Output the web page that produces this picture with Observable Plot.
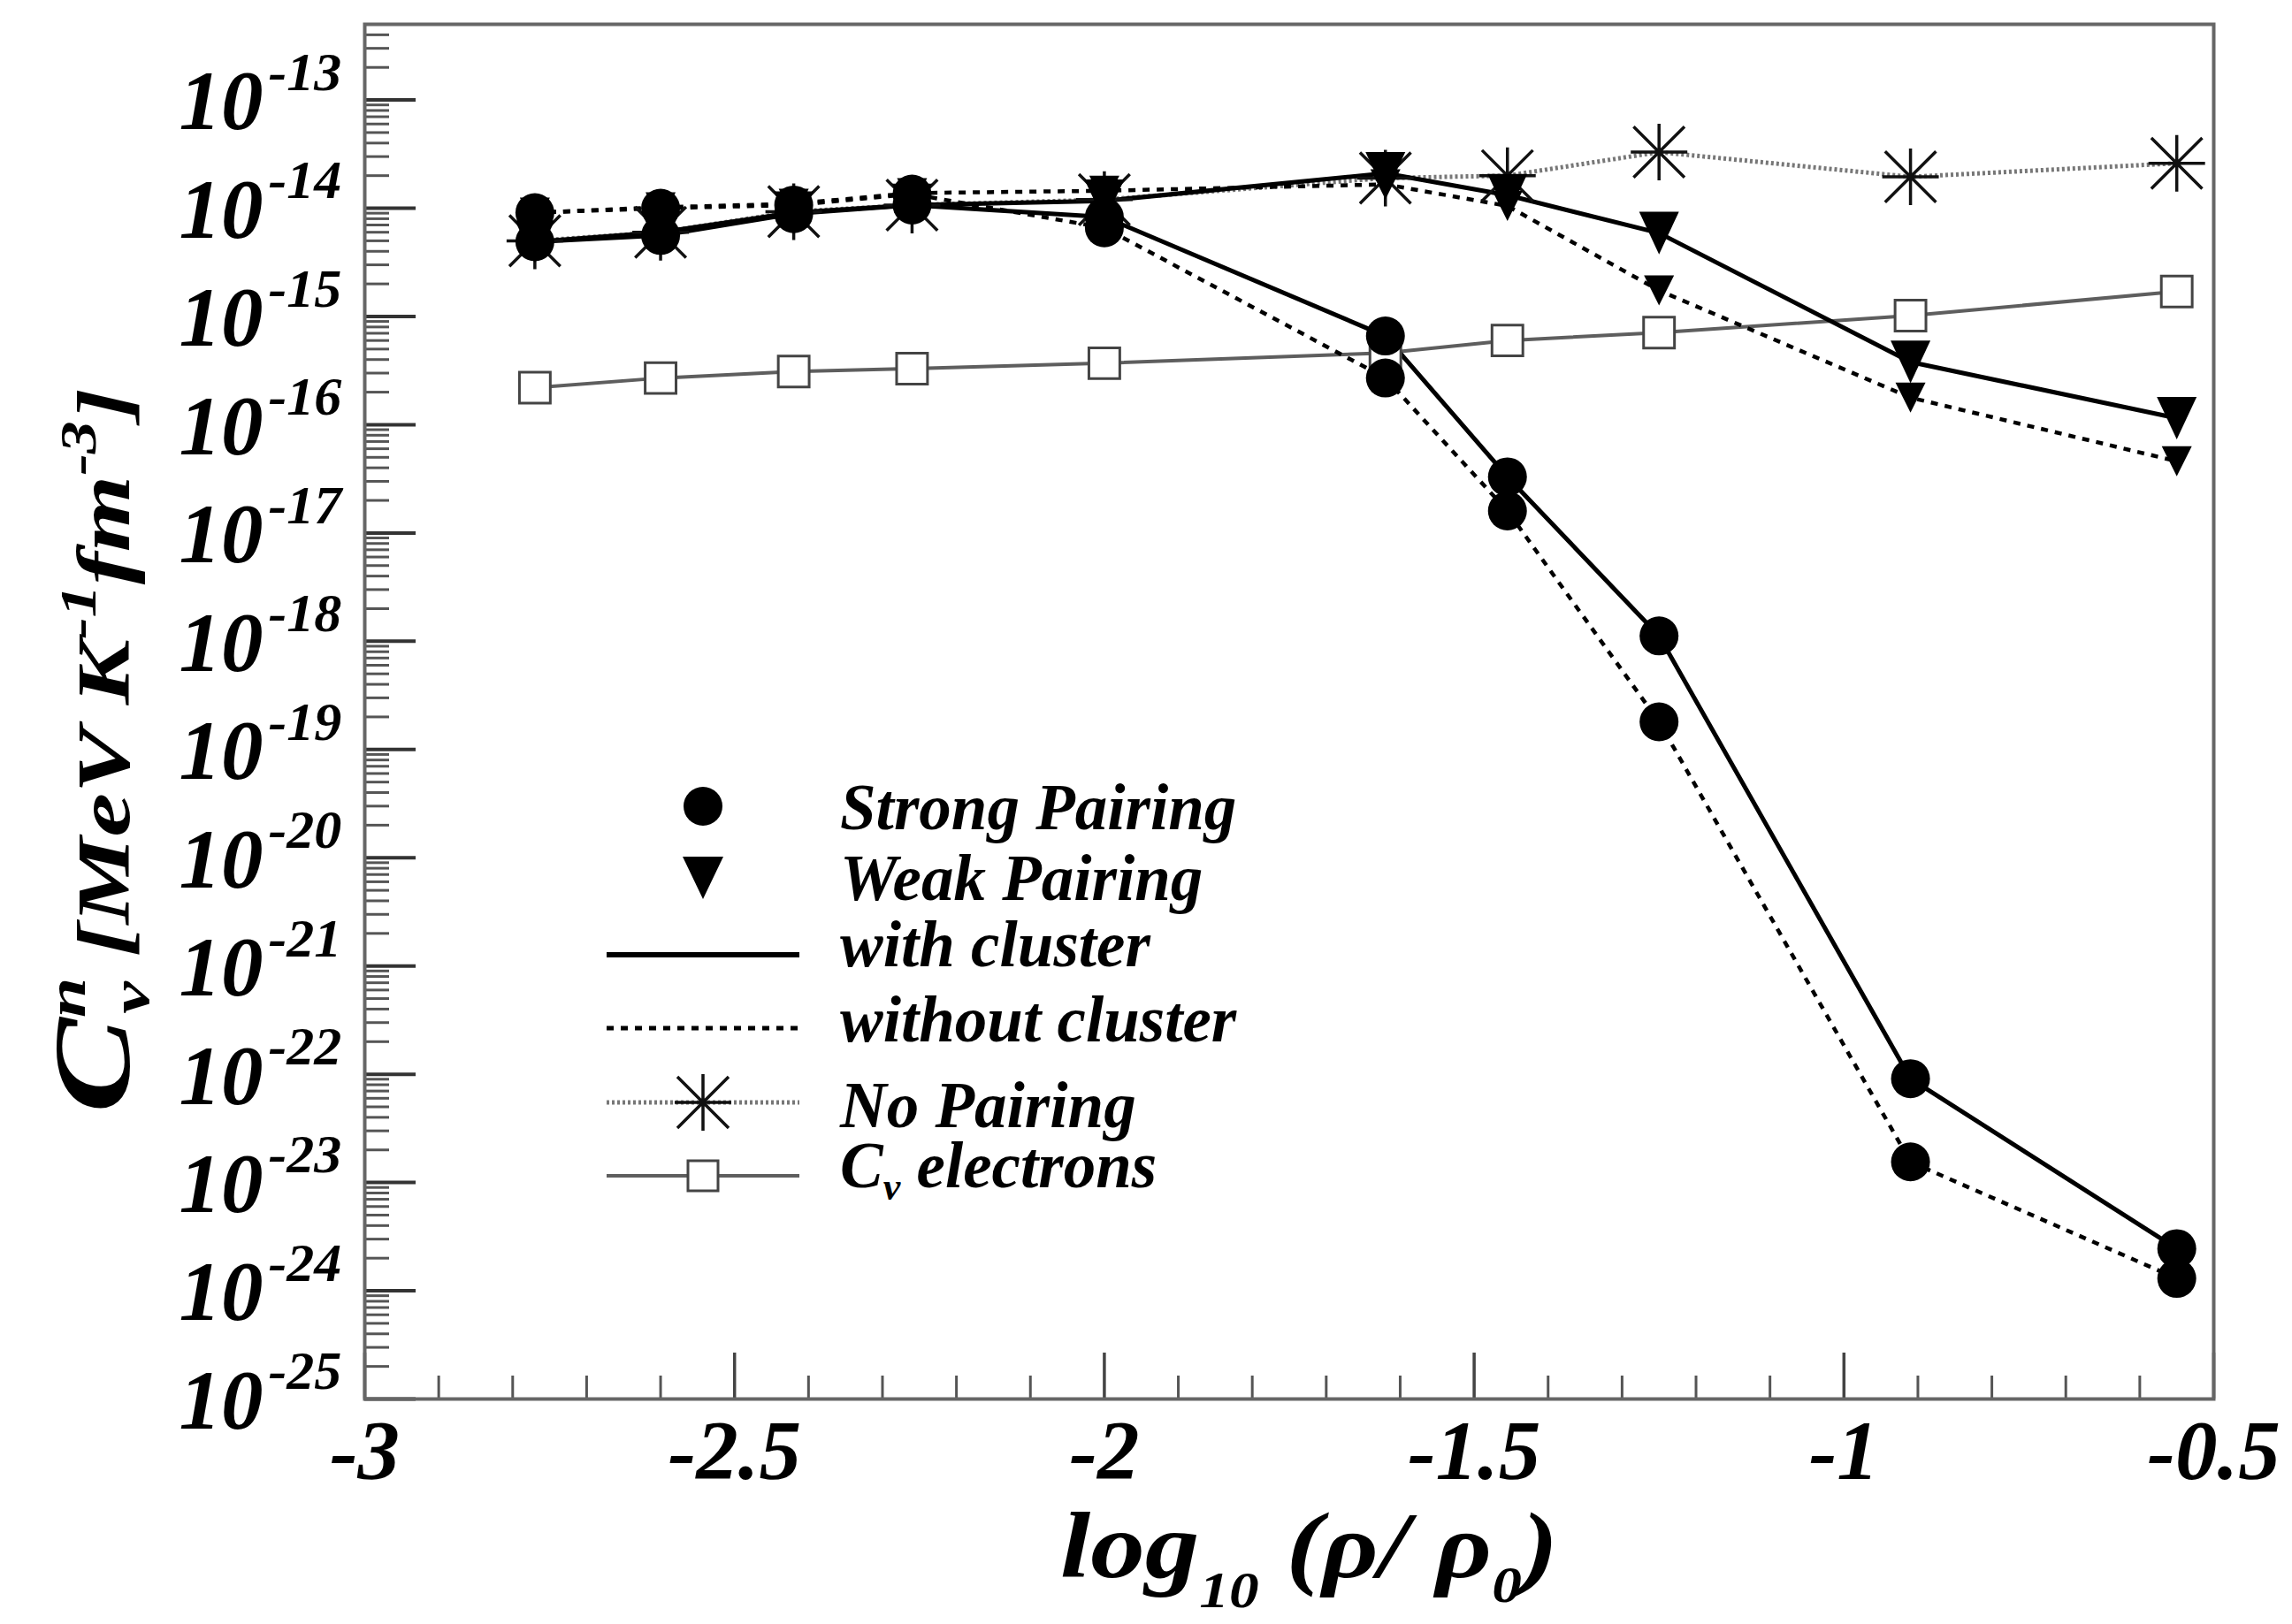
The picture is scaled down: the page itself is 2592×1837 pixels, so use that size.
<!DOCTYPE html>
<html><head><meta charset="utf-8">
<script src="https://cdn.jsdelivr.net/npm/d3@7"></script>
<script src="https://cdn.jsdelivr.net/npm/@observablehq/plot@0.6"></script>
<style>
html,body{margin:0;padding:0;background:#fff;}
#chart{width:2592px;height:1837px;}
</style></head><body><div id="chart"></div>
<script>
// ---- data ----
const logDensity = [-2.77, -2.60, -2.42, -2.26, -2.00, -1.62, -1.455, -1.25, -0.91, -0.55];
const strongWithCluster    = [4.9e-15, 5.6e-15, 8.9e-15, 1.07e-14, 8.3e-15, 6.6e-16, 3.3e-17, 1.12e-18, 9.1e-23, 2.45e-24];
const strongWithoutCluster = [9.1e-15, 1.0e-14, 1.07e-14, 1.35e-14, 6.6e-15, 2.7e-16, 1.6e-17, 1.8e-19, 1.55e-23, 1.3e-24];
const weakWithCluster      = [4.9e-15, 6.0e-15, 9.1e-15, 1.07e-14, 1.17e-14, 2.1e-14, 1.32e-14, 5.9e-15, 3.8e-16, 1.15e-16];
const weakWithoutCluster   = [9.1e-15, 1.02e-14, 1.1e-14, 1.38e-14, 1.45e-14, 1.66e-14, 1.05e-14, 1.74e-15, 1.78e-16, 4.6e-17];
const noPairing            = [5.0e-15, 6.0e-15, 9.3e-15, 1.07e-14, 1.2e-14, 1.9e-14, 2.0e-14, 3.3e-14, 1.95e-14, 2.6e-14];
const electronsCv          = [2.2e-16, 2.7e-16, 3.1e-16, 3.3e-16, 3.7e-16, 4.6e-16, 6.0e-16, 7.1e-16, 1.02e-15, 1.7e-15];

// ---- ticks ----
const xMajorTicks = [-3, -2.5, -2, -1.5, -1, -0.5];
const xTickLabels = ["-3", "-2.5", "-2", "-1.5", "-1", "-0.5"];
const xMinorTicks = [-2.9,-2.8,-2.7,-2.6,-2.4,-2.3,-2.2,-2.1,-1.9,-1.8,-1.7,-1.6,-1.4,-1.3,-1.2,-1.1,-0.9,-0.8,-0.7,-0.6];
const yMajorTicks = [1e-13,1e-14,1e-15,1e-16,1e-17,1e-18,1e-19,1e-20,1e-21,1e-22,1e-23,1e-24,1e-25];
const yTickExponents = ["-13","-14","-15","-16","-17","-18","-19","-20","-21","-22","-23","-24","-25"];
const yMinorMultipliers = [2,3,4,5,6,7,8,9];
const yMinorTicks = [];
for (const t of yMajorTicks) for (const m of yMinorMultipliers) { const v = t*m; if (v <= 5.0001e-13) yMinorTicks.push(v); }

const legendLabels = ["Strong Pairing", "Weak Pairing", "with cluster", "without cluster", "No Pairing", "electrons"];

// ---- layout ----
const W = 2592, H = 1837;
const mL = 412, mR = 89, mT = 27, mB = 255;
const innerW = W - mL - mR, innerH = H - mT - mB;
const FONT = "'Liberation Serif', 'Times New Roman', serif";

const series = vals => logDensity.map((x, i) => ({x, y: vals[i]}));

const downTriangle = (ratio) => ({
  draw(ctx, size) {
    const r = Math.sqrt(size / Math.PI);
    const h = r * ratio;
    ctx.moveTo(-r, -h); ctx.lineTo(r, -h); ctx.lineTo(0, h); ctx.closePath();
  }
});
const asterisk8 = {
  draw(ctx, size) {
    const r = Math.sqrt(size / Math.PI), d = r * 0.9;
    ctx.moveTo(0, -r); ctx.lineTo(0, r);
    ctx.moveTo(-r, 0); ctx.lineTo(r, 0);
    ctx.moveTo(-d, -d); ctx.lineTo(d, d);
    ctx.moveTo(-d, d); ctx.lineTo(d, -d);
  }
};

const svg = Plot.plot({
  width: W, height: H,
  marginLeft: mL, marginRight: mR, marginTop: mT, marginBottom: mB,
  style: {background: "white", fontFamily: FONT},
  x: {domain: [-3, -0.5], axis: null},
  y: {type: "log", domain: [1e-25, 5e-13], axis: null},
  marks: [
    // ticks (inside the frame)
    Plot.ruleY(yMinorTicks, {y: d => d, insetRight: innerW - 28, stroke: "#555", strokeWidth: 3}),
    Plot.ruleY(yMajorTicks, {y: d => d, insetRight: innerW - 58, stroke: "#333", strokeWidth: 4}),
    Plot.ruleX(xMinorTicks, {x: d => d, insetTop: innerH - 26, stroke: "#555", strokeWidth: 3}),
    Plot.ruleX(xMajorTicks, {x: d => d, insetTop: innerH - 52, stroke: "#444", strokeWidth: 3.5}),
    // lines
    Plot.line(series(electronsCv), {x: "x", y: "y", stroke: "#5e5e5e", strokeWidth: 4}),
    Plot.line(series(noPairing), {x: "x", y: "y", stroke: "#777", strokeWidth: 5, strokeDasharray: "3,3", strokeLinecap: "butt"}),
    Plot.line(series(strongWithoutCluster), {x: "x", y: "y", stroke: "#000", strokeWidth: 4.5, strokeDasharray: "8,8", strokeLinecap: "butt"}),
    Plot.line(series(weakWithoutCluster), {x: "x", y: "y", stroke: "#000", strokeWidth: 4.5, strokeDasharray: "8,8", strokeLinecap: "butt"}),
    Plot.line(series(strongWithCluster), {x: "x", y: "y", stroke: "#000", strokeWidth: 5}),
    Plot.line(series(weakWithCluster), {x: "x", y: "y", stroke: "#000", strokeWidth: 5}),
    // markers
    Plot.dot(series(electronsCv), {x: "x", y: "y", symbol: "square", r: 19.7, fill: "white", stroke: "#444", strokeWidth: 3}),
    Plot.dot(series(noPairing), {x: "x", y: "y", symbol: asterisk8, r: 32, fill: "none", stroke: "#111", strokeWidth: 3.5}),
    Plot.dot(series(strongWithoutCluster), {x: "x", y: "y", symbol: "circle", r: 22, fill: "#000", stroke: "none"}),
    Plot.dot(series(strongWithCluster), {x: "x", y: "y", symbol: "circle", r: 22, fill: "#000", stroke: "none"}),
    Plot.dot(series(weakWithoutCluster), {x: "x", y: "y", symbol: downTriangle(1.0), r: 17, fill: "#000", stroke: "none"}),
    Plot.dot(series(weakWithCluster), {x: "x", y: "y", symbol: downTriangle(1.07), r: 22.5, fill: "#000", stroke: "none"}),
    // frame
    Plot.frame({stroke: "#666", strokeWidth: 4}),
    // tick labels
    Plot.text(xMajorTicks, {x: d => d, frameAnchor: "bottom", dy: 60, text: (d, i) => xTickLabels[i],
      fontSize: 95, fontWeight: "bold", fontStyle: "italic", textAnchor: "middle", lineAnchor: "middle", fill: "#000"}),
    Plot.text(yMajorTicks, {y: d => d, frameAnchor: "left", dx: -115, dy: 3, text: () => "10",
      fontSize: 95, fontWeight: "bold", fontStyle: "italic", textAnchor: "end", lineAnchor: "middle", fill: "#000"}),
    Plot.text(yMajorTicks, {y: d => d, frameAnchor: "left", dx: -109, dy: -31, text: (d, i) => yTickExponents[i],
      fontSize: 62, fontWeight: "bold", fontStyle: "italic", textAnchor: "start", lineAnchor: "middle", fill: "#000"})
  ]
});
document.getElementById("chart").appendChild(svg);

const s = d3.select(svg);
const txt = (g) => g.attr("font-family", FONT).attr("font-weight", "bold").attr("font-style", "italic")
  .attr("fill", "#000").attr("text-anchor", "start");

// ---- y-axis label ----
const yl = s.append("text").call(txt)
  .attr("transform", "translate(146,1259) rotate(-90)")
  .attr("font-size", 84)
  .attr("textLength", 820).attr("lengthAdjust", "spacingAndGlyphs");
yl.append("tspan").attr("font-size", 122).text("C");
yl.append("tspan").attr("font-size", 62).attr("dy", -50).text("n");
yl.append("tspan").attr("font-size", 62).attr("dx", -31).attr("dy", 72).text("v");
yl.append("tspan").attr("dy", -22).text(" [MeV K");
yl.append("tspan").attr("font-size", 56).attr("dy", -38).text("-1");
yl.append("tspan").attr("dy", 38).text("fm");
yl.append("tspan").attr("font-size", 56).attr("dy", -38).text("-3");
yl.append("tspan").attr("dy", 38).text("]");

// ---- x-axis label ----
const xl = s.append("text").call(txt)
  .attr("x", 1199).attr("y", 1784).attr("font-size", 106)
  .attr("textLength", 563).attr("lengthAdjust", "spacingAndGlyphs");
xl.append("tspan").text("log");
xl.append("tspan").attr("font-size", 58).attr("dy", 34).text("10");
xl.append("tspan").attr("dy", -34).text(" (\u03c1/ \u03c1");
xl.append("tspan").attr("font-size", 58).attr("dy", 28).text("0");
xl.append("tspan").attr("dy", -28).text(")");

// ---- legend ----
const lg = s.append("g");
const mx = 795, lx1 = 686, lx2 = 904, tx = 950;
const rowsY = [912, 993, 1080, 1163, 1247, 1330];
lg.append("circle").attr("cx", mx).attr("cy", rowsY[0]).attr("r", 22).attr("fill", "#000");
lg.append("path").attr("d", `M${mx-23},${rowsY[1]-24}L${mx+23},${rowsY[1]-24}L${mx},${rowsY[1]+24}Z`).attr("fill", "#000");
lg.append("line").attr("x1", lx1).attr("x2", lx2).attr("y1", rowsY[2]).attr("y2", rowsY[2]).attr("stroke", "#000").attr("stroke-width", 6);
lg.append("line").attr("x1", lx1).attr("x2", lx2).attr("y1", rowsY[3]).attr("y2", rowsY[3]).attr("stroke", "#000").attr("stroke-width", 5).attr("stroke-dasharray", "8,8");
lg.append("line").attr("x1", lx1).attr("x2", lx2).attr("y1", rowsY[4]).attr("y2", rowsY[4]).attr("stroke", "#777").attr("stroke-width", 5).attr("stroke-dasharray", "3,3");
{
  const r = 32, d = 29, cy = rowsY[4];
  lg.append("path").attr("d", `M${mx},${cy-r}L${mx},${cy+r}M${mx-r},${cy}L${mx+r},${cy}M${mx-d},${cy-d}L${mx+d},${cy+d}M${mx-d},${cy+d}L${mx+d},${cy-d}`)
    .attr("stroke", "#111").attr("stroke-width", 3.5).attr("fill", "none");
}
lg.append("line").attr("x1", lx1).attr("x2", lx2).attr("y1", rowsY[5]).attr("y2", rowsY[5]).attr("stroke", "#5e5e5e").attr("stroke-width", 4);
lg.append("rect").attr("x", mx-17).attr("y", rowsY[5]-17).attr("width", 34).attr("height", 34).attr("fill", "white").attr("stroke", "#444").attr("stroke-width", 3);

const textBase = [938, 1018, 1093, 1178, 1275, 1343];
legendLabels.forEach((lab, i) => {
  const t = lg.append("text").call(txt).attr("x", tx).attr("y", textBase[i]).attr("font-size", 73);
  if (i === 5) {
    t.append("tspan").text("C");
    t.append("tspan").attr("font-size", 44).attr("dy", 14).text("v");
    t.append("tspan").attr("dy", -14).text(" " + lab);
  } else {
    t.text(lab);
  }
});
</script>
</body></html>
